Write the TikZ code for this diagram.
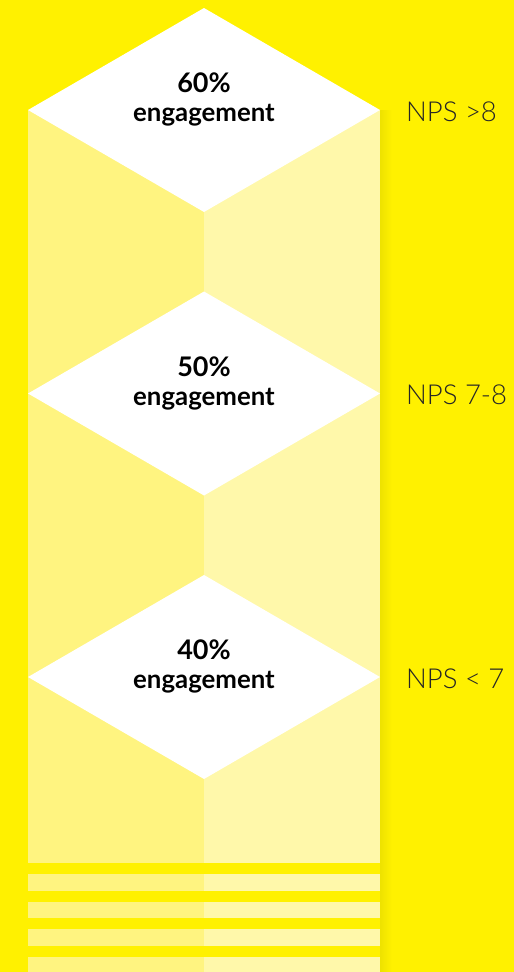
\documentclass[tikz,border=0pt]{standalone}
\usepackage{fontspec}
\setmainfont{Lato}
\newfontfamily\lightfont{Lato Light}
\definecolor{bg}{RGB}{255,241,0}
\definecolor{colleft}{RGB}{255,244,128}
\definecolor{colright}{RGB}{255,248,170}
\definecolor{edgeshade}{RGB}{238,226,0}
\tikzset{
  pct/.style={anchor=base, font=\bfseries\fontsize{27}{27}\selectfont, text=black, inner sep=0pt},
  eng/.style={anchor=base, font=\bfseries\fontsize{25.8}{26}\selectfont, text=black, inner sep=0pt},
  nps/.style={anchor=base west, font=\lightfont\fontsize{27.5}{28}\selectfont, text=black!85, inner sep=0pt},
  gem/.style={fill=white},
  gap/.style={fill=bg}
}
\begin{document}
\begin{tikzpicture}[x=1pt,y=-1pt]
  % canvas
  \fill[bg] (0,0) rectangle (514,972);
  \useasboundingbox (0,0) rectangle (514,972);
  % two-tone column
  \fill[colleft] (28,110) rectangle (204,972);
  \fill[colright] (204,110) rectangle (380,972);
  % soft shadow on the right edge of the column
  \shade[left color=edgeshade, right color=bg] (380,110) rectangle (392,972);
  % stripes cut into the foot of the column
  \foreach \y in {863,891,918,946}
    \fill[gap] (28,\y) rectangle (380,\y+10.5);
  % levels: diamond, percentage, label, NPS band
  \foreach \cy/\p/\n/\band in {110/60/a/{NPS >8},393.5/50/b/{NPS 7-8},677/40/c/{NPS < 7}} {
    \fill[gem] (204,\cy-102) -- (380,\cy) -- (204,\cy+102) -- (28,\cy) -- cycle;
    \node[pct] (pct\n) at (204,\cy-17.5) {\p\%};
    \node[eng] (eng\n) at (204,\cy+11.8) {engagement};
    \node[nps] (nps\n) at (406,\cy+11) {\band};
  }
\end{tikzpicture}
\end{document}
